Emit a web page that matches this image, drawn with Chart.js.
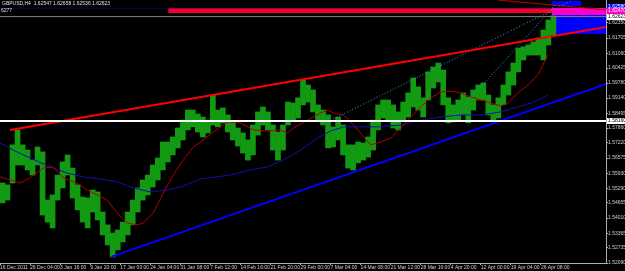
<!DOCTYPE html>
<html>
<head>
<meta charset="utf-8">
<script src="https://cdn.jsdelivr.net/npm/chart.js@4"></script>
<style>
  html, body { margin: 0; padding: 0; background: #000; }
</style>
</head>
<body>
<canvas id="chart" width="625" height="271"></canvas>
<script>
// time axis labels and the bar index where each one sits
const timeLabels = ['16 Dec 2011', '26 Dec 04:00', '3 Jan 16:00', '9 Jan 20:00', '17 Jan 00:00', '24 Jan 04:00',
  '31 Jan 08:00', '7 Feb 12:00', '14 Feb 16:00', '21 Feb 20:00', '29 Feb 00:00', '7 Mar 04:00', '14 Mar 08:00',
  '21 Mar 12:00', '28 Mar 16:00', '4 Apr 20:00', '12 Apr 00:00', '19 Apr 04:00', '26 Apr 08:00'];
const timeTickBars = [0, 30, 60, 90, 120, 150, 180, 210, 240, 270, 300, 330, 360, 390, 420, 450, 480, 510, 540];

// price axis labels
const priceTicks = [1.52090, 1.52735, 1.53365, 1.54010, 1.54655, 1.55290, 1.55930, 1.56575, 1.57220,
  1.57860, 1.58495, 1.59140, 1.59780, 1.60425, 1.61060, 1.61705, 1.62350];

// GBPUSD H4 price ranges, one group of 5 bars per entry
const barHigh = [1.5551, 1.5543, 1.5714, 1.5778, 1.5714, 1.5692, 1.5649, 1.5705, 1.5684, 1.5478,
  1.5500, 1.5585, 1.5641, 1.5671, 1.5615, 1.5543, 1.5491, 1.5487, 1.5521, 1.5513,
  1.5427, 1.5372, 1.5337, 1.5350, 1.5384, 1.5427, 1.5478, 1.5530, 1.5564, 1.5585,
  1.5628, 1.5658, 1.5726, 1.5726, 1.5748, 1.5786, 1.5820, 1.5863, 1.5863, 1.5846,
  1.5833, 1.5820, 1.5927, 1.5863, 1.5872, 1.5842, 1.5812, 1.5786, 1.5765, 1.5735,
  1.5799, 1.5855, 1.5876, 1.5855, 1.5799, 1.5769, 1.5799, 1.5897, 1.5893, 1.5915,
  1.5991, 1.5970, 1.5949, 1.5885, 1.5863, 1.5842, 1.5791, 1.5833, 1.5799, 1.5714,
  1.5714, 1.5726, 1.5722, 1.5748, 1.5820, 1.5885, 1.5906, 1.5906, 1.5885, 1.5855,
  1.5897, 1.5936, 1.6000, 1.5962, 1.5915, 1.6026, 1.6047, 1.6064, 1.6034, 1.5915,
  1.5885, 1.5906, 1.5936, 1.5919, 1.5949, 1.5970, 1.5979, 1.5927, 1.5885, 1.5915,
  1.5970, 1.6026, 1.6064, 1.6128, 1.6133, 1.6141, 1.6154, 1.6171, 1.6205, 1.6248,
  1.6266];
const barLow = [1.5466, 1.5478, 1.5551, 1.5628, 1.5628, 1.5607, 1.5585, 1.5628, 1.5414, 1.5384,
  1.5359, 1.5478, 1.5530, 1.5585, 1.5487, 1.5436, 1.5384, 1.5359, 1.5427, 1.5393,
  1.5329, 1.5286, 1.5235, 1.5265, 1.5299, 1.5329, 1.5372, 1.5427, 1.5478, 1.5500,
  1.5534, 1.5564, 1.5607, 1.5641, 1.5671, 1.5701, 1.5735, 1.5778, 1.5791, 1.5769,
  1.5748, 1.5765, 1.5799, 1.5791, 1.5808, 1.5769, 1.5735, 1.5709, 1.5679, 1.5649,
  1.5671, 1.5756, 1.5799, 1.5778, 1.5692, 1.5649, 1.5692, 1.5799, 1.5820, 1.5829,
  1.5885, 1.5897, 1.5855, 1.5820, 1.5799, 1.5701, 1.5705, 1.5735, 1.5671, 1.5615,
  1.5607, 1.5637, 1.5649, 1.5662, 1.5692, 1.5778, 1.5829, 1.5820, 1.5786, 1.5778,
  1.5820, 1.5833, 1.5876, 1.5863, 1.5833, 1.5906, 1.5957, 1.5983, 1.5885, 1.5808,
  1.5812, 1.5820, 1.5842, 1.5808, 1.5863, 1.5906, 1.5906, 1.5842, 1.5816, 1.5829,
  1.5885, 1.5927, 1.5970, 1.6026, 1.6077, 1.6098, 1.6098, 1.6098, 1.6077, 1.6141,
  1.6184];

// fast moving average (dark red)
const maFastBars = [0, 20, 30, 43, 53, 63, 77, 87, 97, 107, 117, 127, 137, 143, 153, 163, 173, 183, 193, 200,
  213, 227, 240, 253, 267, 280, 287, 293, 307, 320, 327, 333, 343, 353, 363, 370, 380, 390, 400, 410,
  420, 430, 440, 450, 460, 470, 480, 490, 500, 507, 517, 527, 537, 547];
const maFastValues = [1.5577, 1.5551, 1.5573, 1.5615, 1.5620, 1.5573, 1.5551, 1.5521, 1.5500, 1.5478,
  1.5423, 1.5380, 1.5372, 1.5380, 1.5423, 1.5508, 1.5585, 1.5649, 1.5705, 1.5726,
  1.5769, 1.5812, 1.5808, 1.5778, 1.5773, 1.5778, 1.5765, 1.5786, 1.5820, 1.5850,
  1.5863, 1.5850, 1.5842, 1.5799, 1.5748, 1.5714, 1.5726, 1.5743, 1.5786, 1.5833,
  1.5876, 1.5915, 1.5940, 1.5944, 1.5936, 1.5919, 1.5906, 1.5893, 1.5880, 1.5893,
  1.5936, 1.5970, 1.6013, 1.6098];

// slow moving average (dark blue)
const maSlowBars = [0, 13, 30, 50, 67, 83, 100, 117, 133, 150, 167, 183, 200, 230, 250, 267, 283, 300, 317, 330,
  343, 360, 380, 400, 420, 440, 460, 480, 500, 517, 533, 547];
const maSlowValues = [1.5722, 1.5692, 1.5658, 1.5620, 1.5594, 1.5577, 1.5568, 1.5556, 1.5530, 1.5513,
  1.5521, 1.5538, 1.5568, 1.5585, 1.5607, 1.5620, 1.5649, 1.5692, 1.5743, 1.5773,
  1.5791, 1.5791, 1.5791, 1.5799, 1.5820, 1.5833, 1.5842, 1.5842, 1.5855, 1.5876,
  1.5897, 1.5927];

// drawn objects: [bar, price] end points
const redTrend = [[10, 1.5778], [605, 1.6218]];
const blueTrend = [[111, 1.5235], [605, 1.5974]];
const dotTrendA = [[333, 1.5825], [570, 1.6329]];
const dotTrendB = [[453, 1.5833], [555, 1.6316]];
const topRedLine = [[497, 1.6333], [605, 1.6291]];
const whiteLevel = 1.5816;
const bidPrice = 1.62623;

// rectangles: [fromBar, toBar, topPrice, bottomPrice]
const topBandRed = [168, 605, 1.6295, 1.6278];
const zoneBlue = [551, 605, 1.6269, 1.6188];
const zoneMagenta = [551, 605, 1.6299, 1.6269];
const zoneBlueSmall = [551, 580, 1.6329, 1.6308];

const xMin = 0, xMax = 605;
const yMin = 1.52090, yMax = 1.63333;

const candleData = barHigh.map((h, i) => ({ x: i * 5 + 2.5, y: [barLow[i], h] }));
const pts = (xs, ys) => xs.map((x, i) => ({ x: x, y: ys[i] }));
const seg = arr => arr.map(p => ({ x: p[0], y: p[1] }));

function lineSet(data, color, width, dash) {
  return {
    type: 'line', data: data, borderColor: color, borderWidth: width,
    borderDash: dash || [], pointRadius: 0, tension: 0, fill: false, order: 1
  };
}

const chartObjects = {
  id: 'chartObjects',
  beforeDraw(chart) {
    const c = chart.ctx;
    c.save();
    c.fillStyle = '#000';
    c.fillRect(0, 0, chart.width, chart.height);
    c.restore();
  },
  beforeDatasetsDraw(chart) {
    const c = chart.ctx, xs = chart.scales.x, ys = chart.scales.y;
    const rect = (r, color) => {
      const x1 = xs.getPixelForValue(r[0]), x2 = xs.getPixelForValue(r[1]);
      const y1 = ys.getPixelForValue(r[2]), y2 = ys.getPixelForValue(r[3]);
      c.fillStyle = color;
      c.fillRect(x1, y1, x2 - x1, y2 - y1);
    };
    c.save();
    // header strip
    c.fillStyle = '#000050';
    c.fillRect(0, 8, xs.getPixelForValue(topBandRed[0]), 1);
    c.fillStyle = '#800080';
    c.fillRect(xs.getPixelForValue(topBandRed[0]), 8, chart.chartArea.right, 1);
    rect(topBandRed, '#ff0020');
    rect(zoneBlue, '#0000ff');
    rect(zoneMagenta, '#ff00c0');
    rect(zoneBlueSmall, '#0000ff');
    c.restore();
  },
  afterDraw(chart) {
    const c = chart.ctx, ys = chart.scales.y, area = chart.chartArea;
    c.save();
    c.font = '5px "Liberation Sans", Arial, sans-serif';
    c.textBaseline = 'middle';
    c.fillStyle = '#e0e0e0';
    c.fillText('GBPUSD,H4  1.62547 1.62658 1.62536 1.62623', 2, 4);
    c.fillText('6277', 1, 11);
    // price labels of the drawn objects on the axis
    const tag = (price, text, bg, fg) => {
      const y = Math.round(ys.getPixelForValue(price));
      c.fillStyle = bg;
      c.fillRect(area.right + 1, y - 3, chart.width - area.right - 1, 6);
      c.fillStyle = fg;
      c.fillText(text, area.right + 2, y);
    };
    tag(1.6303, '1.62580', '#0000ff', '#ffffff');
    tag(1.6286, '1.62470', '#ff00c0', '#ffffff');
    tag(bidPrice, '1.62623', '#ffffff', '#000000');
    tag(whiteLevel, '1.58160', '#ffffff', '#000000');
    c.restore();
  }
};

new Chart(document.getElementById('chart'), {
  type: 'bar',
  data: {
    datasets: [
      lineSet([{ x: xMin, y: whiteLevel }, { x: xMax, y: whiteLevel }], '#ffffff', 2),
      lineSet([{ x: xMin, y: bidPrice }, { x: xMax, y: bidPrice }], '#808080', 1),
      lineSet(seg(redTrend), '#ff0000', 2),
      lineSet(seg(blueTrend), '#0000ff', 2),
      lineSet(seg(dotTrendA), '#2f9fd0', 1, [1, 2]),
      lineSet(seg(dotTrendB), '#2f9fd0', 1, [1, 2]),
      lineSet(seg(topRedLine), '#c00000', 1),
      lineSet(pts(maFastBars, maFastValues), '#b00000', 1),
      lineSet(pts(maSlowBars, maSlowValues), '#1010b0', 1),
      {
        type: 'bar', data: candleData, backgroundColor: '#129a12',
        barPercentage: 1, categoryPercentage: 1, order: 5
      }
    ]
  },
  options: {
    responsive: false,
    animation: false,
    events: [],
    layout: { padding: 0 },
    plugins: { legend: { display: false }, tooltip: { enabled: false } },
    scales: {
      x: {
        type: 'linear', min: xMin, max: xMax, offset: false,
        afterBuildTicks: s => { s.ticks = timeTickBars.map(v => ({ value: v })); },
        afterFit: s => { s.height = 8; s.paddingLeft = 0; s.paddingRight = 0; },
        ticks: {
          autoSkip: false, maxRotation: 0, minRotation: 0, padding: 0, align: 'start',
          color: '#d0d0d0', font: { size: 5, family: 'Liberation Sans' },
          callback: (v, i) => timeLabels[i]
        },
        grid: { offset: false, drawOnChartArea: false, drawTicks: true, tickLength: 2, color: '#b0b0b0' },
        border: { display: true, color: '#b0b0b0' }
      },
      y: {
        type: 'linear', position: 'right', min: yMin, max: yMax,
        afterBuildTicks: s => { s.ticks = priceTicks.map(v => ({ value: v })); },
        afterFit: s => { s.width = 19; s.paddingTop = 0; s.paddingBottom = 0; },
        ticks: {
          padding: 0, color: '#d0d0d0', font: { size: 5, family: 'Liberation Sans' },
          callback: v => v.toFixed(5)
        },
        grid: { drawOnChartArea: false, drawTicks: true, tickLength: 2, color: '#b0b0b0' },
        border: { display: true, color: '#b0b0b0' }
      }
    }
  },
  plugins: [chartObjects]
});
</script>
</body>
</html>
